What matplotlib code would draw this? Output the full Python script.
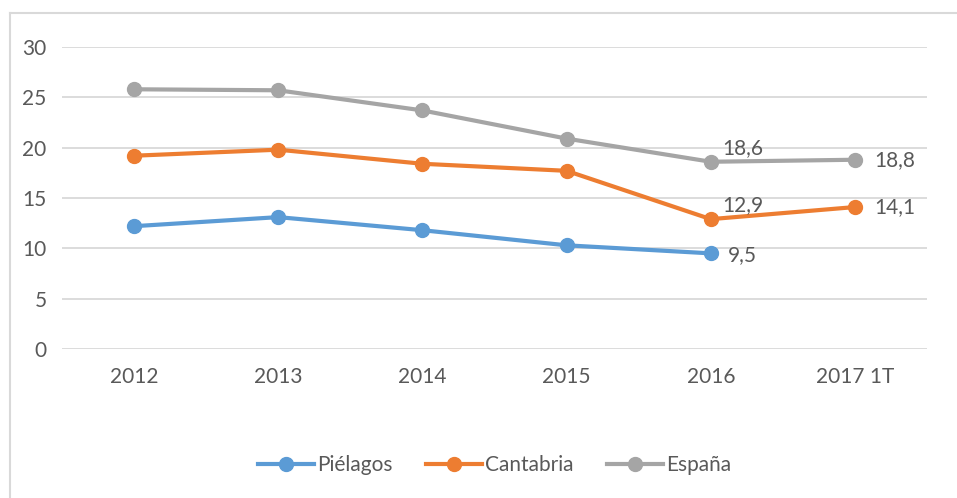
import matplotlib.pyplot as plt
from matplotlib.lines import Line2D

plt.rcParams['font.family'] = ['Lato', 'DejaVu Sans']

# Datos
years = ['2012', '2013', '2014', '2015', '2016', '2017 1T']
pielagos = [12.2, 13.1, 11.8, 10.3, 9.5]
cantabria = [19.2, 19.8, 18.4, 17.7, 12.9, 14.1]
espana = [25.8, 25.7, 23.7, 20.9, 18.6, 18.8]
yticks = [0, 5, 10, 15, 20, 25, 30]

text_col = '#595959'
grid_col = '#D9D9D9'
series = [
    ('Piélagos', pielagos, '#5B9BD5'),
    ('Cantabria', cantabria, '#ED7D31'),
    ('España', espana, '#A5A5A5'),
]

fig = plt.figure(figsize=(9.57, 4.98), dpi=100)
ax = fig.add_axes([62 / 957, 1 - 349 / 498, 865 / 957, 302 / 498])

x = list(range(len(years)))
for name, vals, col in series:
    ax.plot(x[:len(vals)], vals, color=col, lw=3, marker='o', ms=10,
            solid_capstyle='round', label=name, zorder=3)

# Etiquetas de datos
def lab(i, v, dx, dy):
    ax.annotate(f'{v:.1f}'.replace('.', ','), (i, v), xytext=(dx, dy),
                textcoords='offset points', color=text_col, fontsize=15,
                ha='left', va='center')

lab(4, pielagos[4], 12, -1)
lab(4, cantabria[4], 8, 10)
lab(5, cantabria[5], 14, 0)
lab(4, espana[4], 8, 10)
lab(5, espana[5], 14, 0)

ax.set_xlim(-0.5, len(years) - 0.5)
ax.set_ylim(0, 30)
ax.set_yticks(yticks)
ax.set_xticks(x)
ax.set_xticklabels(years)
ax.yaxis.grid(True, color=grid_col, lw=1.3)
ax.set_axisbelow(True)
for s in ax.spines.values():
    s.set_visible(False)
ax.tick_params(length=0, labelsize=15, colors=text_col)
ax.tick_params(axis='x', pad=13)
ax.tick_params(axis='y', pad=11)

handles = [Line2D([], [], color=c, lw=3, marker='o', ms=10) for _, _, c in series]
fig.legend(handles, [n for n, _, _ in series], loc='center',
           bbox_to_anchor=(0.517, 1 - 465 / 498), ncol=3, frameon=False,
           fontsize=15, labelcolor=text_col, handlelength=2.7,
           handletextpad=0.15, columnspacing=1.6)

# Marco del gráfico
fig.add_artist(Line2D([9.5 / 957, 1], [1 - 13.5 / 498] * 2, color=grid_col, lw=1.5))
fig.add_artist(Line2D([9.5 / 957] * 2, [0, 1 - 13.5 / 498], color=grid_col, lw=1.5))

fig.savefig('out.png', dpi=100)
